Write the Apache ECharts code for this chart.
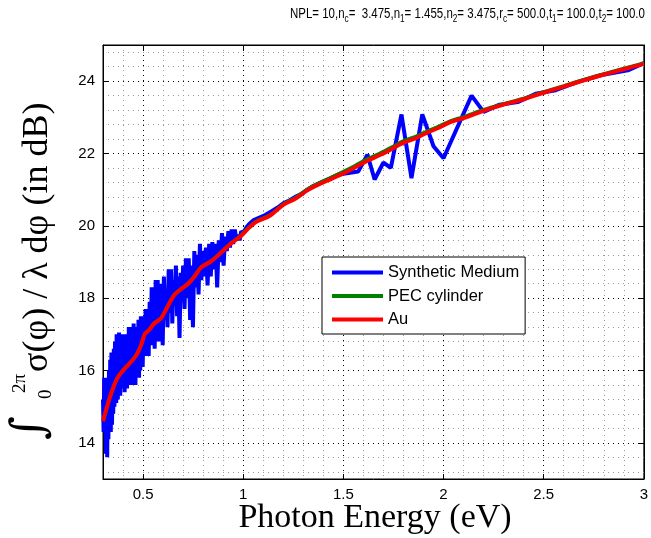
<!DOCTYPE html>
<html>
<head>
<meta charset="utf-8">
<script src="https://cdn.jsdelivr.net/npm/echarts@6/dist/echarts.min.js"></script>
<style>html,body{margin:0;padding:0;background:#fff;}#c{width:651px;height:538px;}</style>
</head>
<body>
<div id="c"></div>
<script>
// ---- data ----
const xTicks = [0.5, 1, 1.5, 2, 2.5, 3];
const yTicks = [14, 16, 18, 20, 22, 24];
const xMinor = [0.3,0.4,0.6,0.7,0.8,0.9,1.1,1.2,1.3,1.4,1.6,1.7,1.8,1.9,2.1,2.2,2.3,2.4,2.6,2.7,2.8,2.9];
const yMinor = [13.2,13.6,14.4,14.8,15.2,15.6,16.4,16.8,17.2,17.6,18.4,18.8,19.2,19.6,20.4,20.8,21.2,21.6,22.4,22.8,23.2,23.6,24.4,24.8];

const synthE = [
0.300,0.303,0.306,0.309,0.312,0.315,0.318,0.321,0.324,0.327,0.330,0.333,0.336,0.339,0.342,0.345,0.348,0.351,0.354,0.357,
0.360,0.362,0.364,0.366,0.368,0.370,0.372,0.374,0.376,0.378,0.380,0.382,0.384,0.386,0.388,0.390,0.393,0.396,0.399,0.402,
0.405,0.408,0.411,0.414,0.417,0.420,0.423,0.426,0.429,0.432,0.435,0.438,0.441,0.444,0.447,0.450,0.453,0.456,0.459,0.462,
0.465,0.468,0.471,0.474,0.477,0.480,0.483,0.486,0.489,0.492,0.495,0.498,0.503,0.508,
0.513,0.518,0.523,0.528,0.533,0.538,0.543,0.548,0.553,0.558,0.563,0.568,0.573,0.578,0.583,0.588,0.593,0.598,0.604,0.610,
0.616,0.622,0.628,0.634,0.640,0.646,0.652,0.658,0.664,0.670,0.676,0.682,0.688,0.694,0.700,0.707,0.714,0.721,0.728,0.735,
0.742,0.749,0.756,0.763,0.770,0.777,0.784,0.791,0.798,0.806,0.814,0.822,0.830,0.838,0.846,0.854,0.862,0.870,0.878,0.886,
0.894,0.902,0.910,0.918,0.926,0.934,0.942,0.950,0.958,0.966,0.974,0.982,0.990,1.000,1.015,1.030,1.050,1.070,1.090,1.110,
1.140,1.170,1.200,1.230,1.260,1.290,1.320,1.350,1.390,1.430,1.475,1.525,1.574,1.620,1.656,1.700,1.737,1.790,1.840,1.894,
1.950,2.000,2.140,2.200,2.280,2.370,2.460,2.560,2.670,2.790,2.920,3.000];
const synthDB = [
15.2,14.3,15.8,14.6,15.4,13.7,15.8,13.6,15.6,14.1,16.0,14.5,16.3,14.3,16.5,14.5,15.9,14.8,16.6,15.0,
16.8,15.2,16.4,15.1,17.0,15.3,16.7,15.2,16.9,15.4,17.05,15.6,16.8,15.3,16.6,15.5,17.0,15.7,16.8,15.5,
17.0,15.4,16.9,15.6,17.0,15.5,16.7,15.8,17.2,15.6,17.1,15.9,16.9,15.6,17.2,15.7,17.3,16.0,17.1,15.6,
17.2,15.8,17.0,16.1,17.4,15.8,17.3,16.0,17.5,16.2,17.5,16.1,17.4,16.4,
17.7,16.6,17.3,16.4,17.9,16.7,18.3,16.9,17.6,16.6,18.5,17.0,18.5,16.8,18.1,17.2,18.4,16.7,18.6,17.4,
18.2,17.2,18.8,17.6,18.8,17.3,18.5,17.8,18.9,17.5,18.6,16.9,18.7,17.9,18.9,17.7,19.1,18.0,19.1,17.4,
18.9,17.2,19.3,18.3,19.2,18.1,19.5,18.5,19.3,18.6,19.4,18.35,19.5,18.6,19.55,18.8,19.5,18.3,19.6,19.0,
19.8,18.9,19.7,19.3,19.85,19.4,19.9,19.5,19.9,19.6,19.75,19.6,19.85,19.8,19.95,20.05,20.15,20.2,20.25,20.3,
20.4,20.5,20.62,20.7,20.8,20.88,21.0,21.1,21.2,21.3,21.42,21.46,21.5,21.97,21.28,21.75,21.6,23.08,21.32,23.08,
22.2,21.87,23.6,23.15,23.35,23.42,23.65,23.75,23.98,24.17,24.3,24.5];

const smoothE = [0.30,0.335,0.368,0.40,0.434,0.467,0.49,0.508,0.53,0.556,0.589,0.622,0.655,0.69,0.725,0.757,0.79,0.84,0.89,0.94,
0.985,1.03,1.068,1.133,1.2,1.26,1.32,1.38,1.44,1.5,1.56,1.62,1.68,1.74,1.8,1.86,1.92,1.98,2.04,2.1,2.2,2.3,2.4,2.5,2.6,2.7,2.8,2.9,3.0];
const auDB = [14.6,15.27,15.75,16.0,16.2,16.43,16.7,17.0,17.12,17.3,17.44,17.76,18.08,18.25,18.4,18.6,18.85,19.02,19.26,19.52,
19.7,19.95,20.12,20.28,20.58,20.75,20.98,21.15,21.3,21.45,21.62,21.8,21.95,22.12,22.3,22.42,22.58,22.72,22.88,22.98,23.18,23.35,23.5,23.68,23.85,24.02,24.18,24.33,24.48];
const pecDB = [14.6,15.27,15.76,16.01,16.21,16.44,16.71,17.01,17.13,17.31,17.45,17.77,18.09,18.26,18.41,18.61,18.86,19.03,19.27,19.53,
19.72,19.97,20.14,20.3,20.6,20.78,21.01,21.19,21.34,21.5,21.67,21.85,22.0,22.17,22.35,22.47,22.62,22.76,22.91,23.01,23.21,23.37,23.52,23.7,23.87,24.04,24.2,24.35,24.5];

const seriesNames = ['Synthetic Medium', 'PEC cylinder', 'Au'];
const seriesColors = ['#0000ff', '#008000', '#ff0000'];

function pairs(xs, ys) { return xs.map((x, i) => [x, ys[i]]); }

const chart = echarts.init(document.getElementById('c'), null, {renderer: 'canvas'});
const SANS = '"Liberation Sans", Arial, Helvetica, sans-serif';
const SERIF = '"Liberation Serif", "Times New Roman", serif';
const X0 = 0.3, X1 = 3, Y0 = 13, Y1 = 25;

function majorAxis(pos, range, ticks, labels, grid) {
  return {
    type: 'value', position: pos, min: range[0], max: range[1], gridIndex: 0,
    axisLine: {show: true, onZero: false, lineStyle: {color: '#000', width: 1}},
    axisTick: {show: true, inside: true, length: 5, customValues: ticks, lineStyle: {color: '#000'}},
    axisLabel: {show: labels, customValues: ticks, color: '#000', fontSize: 15, fontFamily: SANS, margin: 8,
      formatter: v => String(v)},
    splitLine: {show: grid, lineStyle: {color: '#000', type: [1, 4], width: 1}},
    minorTick: {show: false}, minorSplitLine: {show: false}
  };
}
function minorAxis(pos, range, ticks) {
  return {
    type: 'value', position: pos, min: range[0], max: range[1], gridIndex: 0,
    axisLine: {show: false}, axisTick: {show: false, customValues: ticks},
    axisLabel: {show: false, customValues: ticks},
    splitLine: {show: true, lineStyle: {color: '#9a9a9a', type: [1, 4], width: 1}}
  };
}

const titleText = '{t|NPL= 10,n}{s|c}{t|=  3.475,n}{s|1}{t|= 1.455,n}{s|2}{t|= 3.475,r}{s|c}{t|= 500.0,t}{s|1}{t|= 100.0,t}{s|2}{t|= 100.0}';

const option = {
  animation: false,
  backgroundColor: '#fff',
  grid: {left: 103, right: 3, top: 45, bottom: 59, show: true, borderColor: '#000', borderWidth: 1, backgroundColor: 'transparent'},
  xAxis: [
    majorAxis('bottom', [X0, X1], xTicks, true, true),
    minorAxis('bottom', [X0, X1], xMinor),
    majorAxis('top', [X0, X1], xTicks, false, false)
  ],
  yAxis: [
    majorAxis('left', [Y0, Y1], yTicks, true, true),
    minorAxis('left', [Y0, Y1], yMinor),
    majorAxis('right', [Y0, Y1], yTicks, false, false)
  ],
  legend: {
    left: 322, top: 257, orient: 'vertical',
    backgroundColor: '#fff', borderColor: '#000', borderWidth: 1,
    padding: [7, 6, 6, 10], itemGap: 6.5, itemWidth: 51, itemHeight: 4, icon: 'rect',
    textStyle: {fontSize: 16.5, fontFamily: SANS, color: '#000'},
    data: seriesNames
  },
  series: [
    {name: seriesNames[0], type: 'line', data: pairs(synthE, synthDB), showSymbol: false, symbol: 'none',
      lineStyle: {color: seriesColors[0], width: 4}, itemStyle: {color: seriesColors[0]}, z: 3},
    {name: seriesNames[1], type: 'line', data: pairs(smoothE, pecDB), showSymbol: false, symbol: 'none', smooth: 0.3,
      lineStyle: {color: seriesColors[1], width: 3.5}, itemStyle: {color: seriesColors[1]}, z: 4},
    {name: seriesNames[2], type: 'line', data: pairs(smoothE, auDB), showSymbol: false, symbol: 'none', smooth: 0.3,
      lineStyle: {color: seriesColors[2], width: 4}, itemStyle: {color: seriesColors[2]}, z: 5}
  ],
  graphic: [
    {type: 'text', x: 290, y: 5, scaleX: 0.82, style: {text: titleText, rich: {
        t: {fontSize: 14, fontFamily: SANS, fill: '#000', lineHeight: 22, verticalAlign: 'top', padding: [2, 0, 0, 0]},
        s: {fontSize: 10, fontFamily: SANS, fill: '#000', lineHeight: 22, verticalAlign: 'top', padding: [9, 0, 0, 0]}
    }}},
    {type: 'text', x: 375, y: 518, style: {text: 'Photon Energy (eV)', font: '34px ' + SERIF, fill: '#000', align: 'center', verticalAlign: 'middle'}},
    {type: 'text', x: 31, y: 440, rotation: Math.PI / 2, style: {text: '\u222B', font: 'italic 46px "DejaVu Serif", serif', fill: '#000', align: 'left', verticalAlign: 'middle'}},
    {type: 'text', x: 20, y: 393, rotation: Math.PI / 2, style: {text: '2\u03C0', font: '19px ' + SERIF, fill: '#000', align: 'left', verticalAlign: 'middle'}},
    {type: 'text', x: 46, y: 399, rotation: Math.PI / 2, style: {text: '0', font: '19px ' + SERIF, fill: '#000', align: 'left', verticalAlign: 'middle'}},
    {type: 'text', x: 38, y: 372, rotation: Math.PI / 2, style: {text: '\u03C3(\u03C6) / \u03BB d\u03C6 (in dB)', font: '36px ' + SERIF, fill: '#000', align: 'left', verticalAlign: 'middle'}}
  ]
};
chart.setOption(option);
</script>
</body>
</html>
